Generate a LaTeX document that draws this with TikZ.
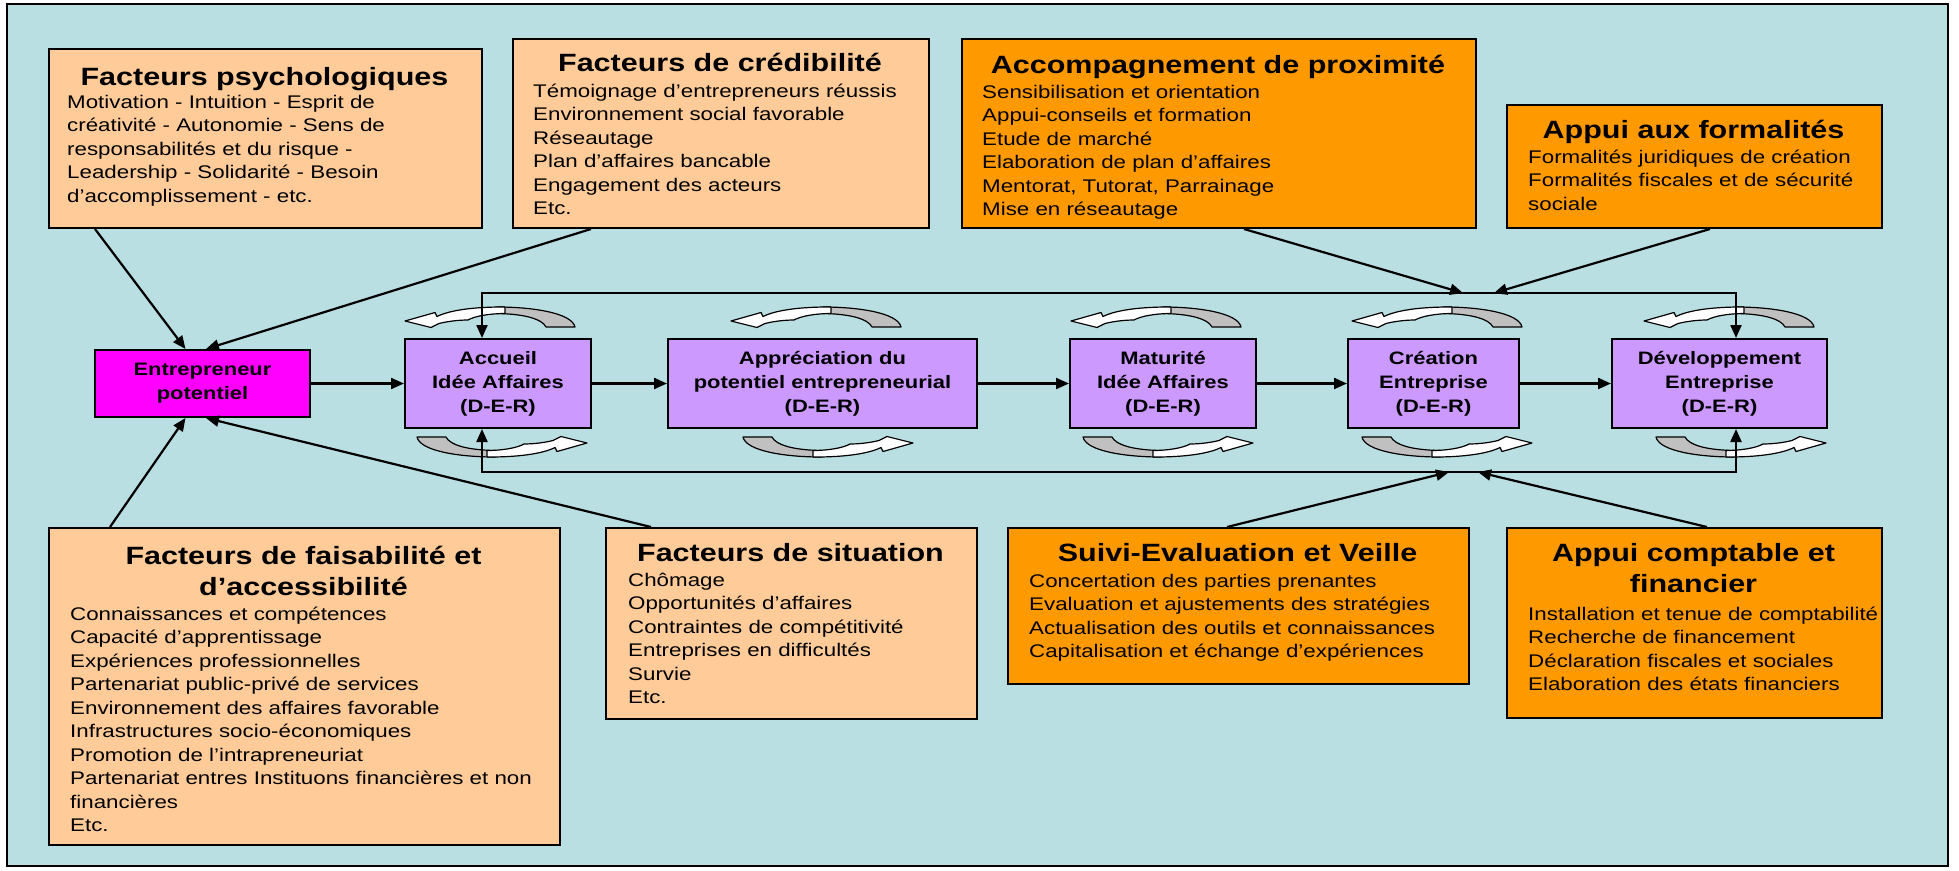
\documentclass[tikz,border=0pt]{standalone}
\usepackage{fontspec}
\setmainfont{Liberation Sans}[FakeStretch=1.22]
\usetikzlibrary{arrows.meta}

\definecolor{panelteal}{RGB}{186,223,226}
\definecolor{paleorange}{RGB}{255,204,153}
\definecolor{strongorange}{RGB}{255,153,0}
\definecolor{stagelilac}{RGB}{204,153,255}
\definecolor{brightmagenta}{RGB}{255,0,255}
\definecolor{curlgray}{RGB}{192,192,192}

\newcommand\titlefont{\fontsize{25}{31}\selectfont\bfseries}
\newcommand\bodyfont{\fontsize{18.3}{23.5}\selectfont}
\newcommand\stagefont{\fontsize{18}{24}\selectfont\bfseries}

% ribbon arrow: grey back face on the right, white face ending in a left-pointing head
\newcommand\curlshape{%
  \filldraw[curlpiece, fill=curlgray] (170,19) .. controls (167,5) and (128,-1) .. (92,-1)
     -- (92,5.5) .. controls (120,6) and (137,11) .. (141,19) -- cycle;
  \filldraw[curlpiece, fill=white] (100,-1) .. controls (70,-1.2) and (45,2) .. (32,8.5)
     -- (30,4.5) -- (0,13) -- (26,19.5) -- (34,15.5)
     .. controls (44,13) and (55,12) .. (63,12)
     .. controls (70,8) and (85,5.5) .. (100,5.5) -- cycle;}
\newcommand\curlabove[2]{\begin{scope}[shift={(#1,#2)}]\curlshape\end{scope}}
\newcommand\curlbelow[2]{\begin{scope}[shift={(#1+170,#2+19)},rotate=180]\curlshape\end{scope}}

\begin{document}
\begin{tikzpicture}[x=1pt,y=-1pt,
  box/.style={draw=black, line width=2pt, inner sep=0pt, anchor=north west},
  factor/.style={box, fill=paleorange},
  support/.style={box, fill=strongorange},
  stage/.style={box, fill=stagelilac, align=center, font=\stagefont},
  boxtitle/.style={inner sep=0pt, anchor=base, font=\titlefont},
  boxtitles/.style={inner sep=0pt, anchor=north, align=center, font=\titlefont},
  boxbody/.style={inner sep=0pt, anchor=north west, align=left, font=\bodyfont},
  link/.style={line width=2.2pt, -{Triangle[length=13pt,width=11pt]}},
  twoway/.style={line width=2.2pt, {Triangle[length=13pt,width=11pt]}-{Triangle[length=13pt,width=11pt]}},
  curlpiece/.style={draw=black, line width=1.2pt, line join=round},
]
\path[use as bounding box, fill=white] (0,0) rectangle (1959,870);
\draw[line width=2pt, fill=panelteal] (7,4) rectangle (1948,866);

% ribbon arrows around the stages
\curlabove{405}{308}  \curlbelow{417}{437}
\curlabove{731}{308}  \curlbelow{743}{437}
\curlabove{1071}{308} \curlbelow{1083}{437}
\curlabove{1352}{308} \curlbelow{1362}{437}
\curlabove{1644}{308} \curlbelow{1656}{437}

% factor boxes (top row)
\node[factor, minimum width=433pt, minimum height=179pt] (psych) at (48,48) {};
\node[boxtitle] (psych-title) at (264.5,85.5) {Facteurs psychologiques};
\node[boxbody] (psych-body) at (67,91.5) {\strut Motivation - Intuition - Esprit de\\créativité - Autonomie - Sens de\\responsabilités et du risque -\\Leadership - Solidarité - Besoin\\d’accomplissement - etc.};

\node[factor, minimum width=416pt, minimum height=189pt] (cred) at (512,38) {};
\node[boxtitle] (cred-title) at (720,71.5) {Facteurs de crédibilité};
\node[boxbody] (cred-body) at (533,80.5) {\strut Témoignage d’entrepreneurs réussis\\Environnement social favorable\\Réseautage\\Plan d’affaires bancable\\Engagement des acteurs\\Etc.};

\node[support, minimum width=514pt, minimum height=189pt] (accomp) at (961,38) {};
\node[boxtitle] (accomp-title) at (1218,73.5) {Accompagnement de proximité};
\node[boxbody] (accomp-body) at (982,81.5) {\strut Sensibilisation et orientation\\Appui-conseils et formation\\Etude de marché\\Elaboration de plan d’affaires\\Mentorat, Tutorat, Parrainage\\Mise en réseautage};

\node[support, minimum width=375pt, minimum height=123pt] (formal) at (1506,104) {};
\node[boxtitle] (formal-title) at (1693.5,138.5) {Appui aux formalités};
\node[boxbody] (formal-body) at (1528,146.5) {\strut Formalités juridiques de création\\Formalités fiscales et de sécurité\\sociale};

% stages
\node[stage, fill=brightmagenta, minimum width=215pt, minimum height=67pt] (entre) at (94,349) {Entrepreneur\\potentiel};
\node[stage, minimum width=186pt, minimum height=89pt] (accueil) at (404,338) {Accueil\\Idée Affaires\\(D-E-R)};
\node[stage, minimum width=309pt, minimum height=89pt] (apprec) at (667,338) {Appréciation du\\potentiel entrepreneurial\\(D-E-R)};
\node[stage, minimum width=186pt, minimum height=89pt] (matur) at (1069,338) {Maturité\\Idée Affaires\\(D-E-R)};
\node[stage, minimum width=171pt, minimum height=89pt] (creat) at (1347,338) {Création\\Entreprise\\(D-E-R)};
\node[stage, minimum width=215pt, minimum height=89pt] (devel) at (1611,338) {Développement\\Entreprise\\(D-E-R)};

% factor boxes (bottom row)
\node[factor, minimum width=511pt, minimum height=317pt] (faisab) at (48,527) {};
\node[boxtitles] (faisab-title) at (303.5,542.8) {\strut Facteurs de faisabilité et\\d’accessibilité};
\node[boxbody] (faisab-body) at (70,603.5) {\strut Connaissances et compétences\\Capacité d’apprentissage\\Expériences professionnelles\\Partenariat public-privé de services\\Environnement des affaires favorable\\Infrastructures socio-économiques\\Promotion de l’intrapreneuriat\\Partenariat entres Instituons financières et non\\financières\\Etc.};

\node[factor, minimum width=371pt, minimum height=191pt] (situ) at (605,527) {};
\node[boxtitle] (situ-title) at (790.5,561.5) {Facteurs de situation};
\node[boxbody] (situ-body) at (628,569.5) {\strut Chômage\\Opportunités d’affaires\\Contraintes de compétitivité\\Entreprises en difficultés\\Survie\\Etc.};

\node[support, minimum width=461pt, minimum height=156pt] (suivi) at (1007,527) {};
\node[boxtitle] (suivi-title) at (1237.5,561.5) {Suivi-Evaluation et Veille};
\node[boxbody] (suivi-body) at (1029,570.5) {\strut Concertation des parties prenantes\\Evaluation et ajustements des stratégies\\Actualisation des outils et connaissances\\Capitalisation et échange d’expériences};

\node[support, minimum width=375pt, minimum height=190pt] (compt) at (1506,527) {};
\node[boxtitles] (compt-title) at (1693.5,539.8) {\strut Appui comptable et\\financier};
\node[boxbody] (compt-body) at (1528,603.5) {\strut Installation et tenue de comptabilité\\Recherche de financement\\Déclaration fiscales et sociales\\Elaboration des états financiers};

% influences on the potential entrepreneur
\draw[link] ([xshift=47pt]psych.south west) -- ([xshift=-17pt]entre.north);
\draw[link] ([xshift=79pt]cred.south west) -- ([xshift=3.5pt]entre.north);
\draw[link] ([xshift=62pt]faisab.north west) -- ([xshift=-17pt]entre.south);
\draw[link] ([xshift=46pt]situ.north west) -- ([xshift=3.5pt]entre.south);

% main sequence
\draw[link] (entre.east) -- (entre.east -| accueil.west);
\draw[link] (accueil.east) -- (accueil.east -| apprec.west);
\draw[link] (apprec.east) -- (apprec.east -| matur.west);
\draw[link] (matur.east) -- (matur.east -| creat.west);
\draw[link] (creat.east) -- (creat.east -| devel.west);

% support loops above and below the stages
\coordinate (loopNW) at (482,293);
\coordinate (loopNE) at (1736,293);
\coordinate (loopSW) at (482,472);
\coordinate (loopSE) at (1736,472);
\draw[twoway] (loopNW |- accueil.north) -- (loopNW) -- (loopNE) -- (loopNE |- devel.north);
\draw[twoway] (loopSW |- accueil.south) -- (loopSW) -- (loopSE) -- (loopSE |- devel.south);

\coordinate (topjoinA) at (1463,293);
\coordinate (topjoinB) at (1494,293);
\coordinate (botjoinA) at (1449,472);
\coordinate (botjoinB) at (1478,472);
\draw[link] ([xshift=283pt]accomp.south west) -- (topjoinA);
\draw[link] ([xshift=204pt]formal.south west) -- (topjoinB);
\draw[link] ([xshift=220pt]suivi.north west) -- (botjoinA);
\draw[link] ([xshift=201pt]compt.north west) -- (botjoinB);
\end{tikzpicture}
\end{document}
